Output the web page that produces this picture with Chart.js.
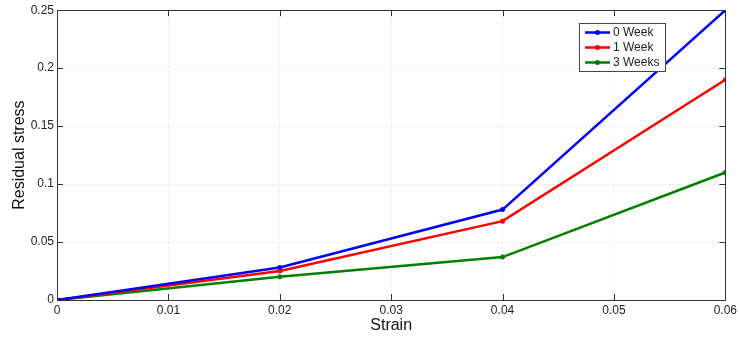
<!DOCTYPE html>
<html>
<head>
<meta charset="utf-8">
<script src="https://cdn.jsdelivr.net/npm/chart.js@4/dist/chart.umd.min.js"></script>
<style>
  body { margin: 0; background: #fff; }
  #wrap { width: 740px; height: 338px; position: relative; }
</style>
</head>
<body>
<div id="wrap"><canvas id="chart"></canvas></div>
<script>
const strain = [0, 0.02, 0.04, 0.06];
const week0 = [0, 0.028, 0.078, 0.25];
const week1 = [0, 0.025, 0.068, 0.19];
const week3 = [0, 0.02, 0.037, 0.11];
const seriesNames = ['0 Week', '1 Week', '3 Weeks'];
const seriesColors = ['#0000ff', '#ff0000', '#008000'];

const fontFam = '"Liberation Sans", Arial, Helvetica, sans-serif';

function pts(ys) {
    return strain.map((x, i) => ({ x: x, y: ys[i] }));
}

function fmt(v) {
    return String(Number(v.toFixed(3)));
}

// box around plot + short inward ticks, matlab style
const frame = {
    id: 'frame',
    afterDraw(chart) {
        const ctx = chart.ctx;
        const a = chart.chartArea;
        ctx.save();
        ctx.strokeStyle = '#333';
        ctx.lineWidth = 1;
        ctx.strokeRect(Math.round(a.left) + 0.5, Math.round(a.top) + 0.5,
            Math.round(a.right - a.left), Math.round(a.bottom - a.top));
        const xs = chart.scales.x, ys = chart.scales.y;
        ctx.beginPath();
        xs.ticks.forEach(t => {
            const px = Math.round(xs.getPixelForValue(t.value)) + 0.5;
            ctx.moveTo(px, a.bottom); ctx.lineTo(px, a.bottom - 6);
            ctx.moveTo(px, a.top); ctx.lineTo(px, a.top + 6);
        });
        ys.ticks.forEach(t => {
            const py = Math.round(ys.getPixelForValue(t.value)) + 0.5;
            ctx.moveTo(a.left, py); ctx.lineTo(a.left + 6, py);
            ctx.moveTo(a.right, py); ctx.lineTo(a.right - 6, py);
        });
        ctx.stroke();
        ctx.restore();
    }
};

// legend box inside the plot, top right
const boxLegend = {
    id: 'boxLegend',
    afterDraw(chart) {
        const ctx = chart.ctx;
        const x0 = 579, y0 = 23, w = 86, h = 48;
        ctx.save();
        ctx.fillStyle = '#fff';
        ctx.fillRect(x0, y0, w, h);
        ctx.strokeStyle = '#444';
        ctx.lineWidth = 1;
        ctx.strokeRect(x0 + 0.5, y0 + 0.5, w, h);
        ctx.font = '12px ' + fontFam;
        ctx.textBaseline = 'middle';
        chart.data.datasets.forEach((ds, i) => {
            const y = y0 + 9.5 + i * 15;
            ctx.strokeStyle = ds.borderColor;
            ctx.lineWidth = 2.5;
            ctx.beginPath();
            ctx.moveTo(x0 + 6, y); ctx.lineTo(x0 + 31, y);
            ctx.stroke();
            ctx.fillStyle = ds.borderColor;
            ctx.beginPath();
            ctx.arc(x0 + 18.5, y, 2.5, 0, Math.PI * 2);
            ctx.fill();
            ctx.fillStyle = '#222';
            ctx.fillText(ds.label, x0 + 34, y + 0.5);
        });
        ctx.restore();
    }
};

const datasets = [week0, week1, week3].map((ys, i) => ({
    label: seriesNames[i],
    data: pts(ys),
    borderColor: seriesColors[i],
    backgroundColor: seriesColors[i],
    borderWidth: 2.5,
    pointRadius: 2.5,
    pointBorderWidth: 0,
    tension: 0
}));

new Chart(document.getElementById('chart').getContext('2d'), {
    type: 'line',
    data: { datasets: datasets },
    plugins: [frame, boxLegend],
    options: {
        responsive: true,
        maintainAspectRatio: false,
        animation: false,
        layout: { padding: { top: 8, right: 13, left: 0, bottom: 0 } },
        plugins: {
            legend: { display: false },
            tooltip: { enabled: false }
        },
        scales: {
            x: {
                type: 'linear',
                min: 0,
                max: 0.06,
                ticks: {
                    stepSize: 0.01,
                    padding: 3,
                    color: '#222',
                    font: { family: fontFam, size: 12 },
                    maxRotation: 0,
                    callback: v => fmt(v)
                },
                grid: {
                    color: '#d0d0d0',
                    drawTicks: false
                },
                border: { display: false, dash: [1, 3] },
                title: {
                    display: true,
                    text: 'Strain',
                    color: '#111',
                    font: { family: fontFam, size: 16 },
                    padding: { top: 0, bottom: 3 }
                },
                afterFit: s => { s.height = 38; }
            },
            y: {
                min: 0,
                max: 0.25,
                ticks: {
                    stepSize: 0.05,
                    padding: 3,
                    color: '#222',
                    font: { family: fontFam, size: 12 },
                    callback: v => fmt(v)
                },
                grid: {
                    color: '#d0d0d0',
                    drawTicks: false
                },
                border: { display: false, dash: [1, 3] },
                title: {
                    display: true,
                    text: 'Residual stress',
                    color: '#111',
                    font: { family: fontFam, size: 16 },
                    padding: { top: 10, bottom: 0 }
                },
                afterFit: s => { s.width = 57; }
            }
        }
    }
});
</script>
</body>
</html>
